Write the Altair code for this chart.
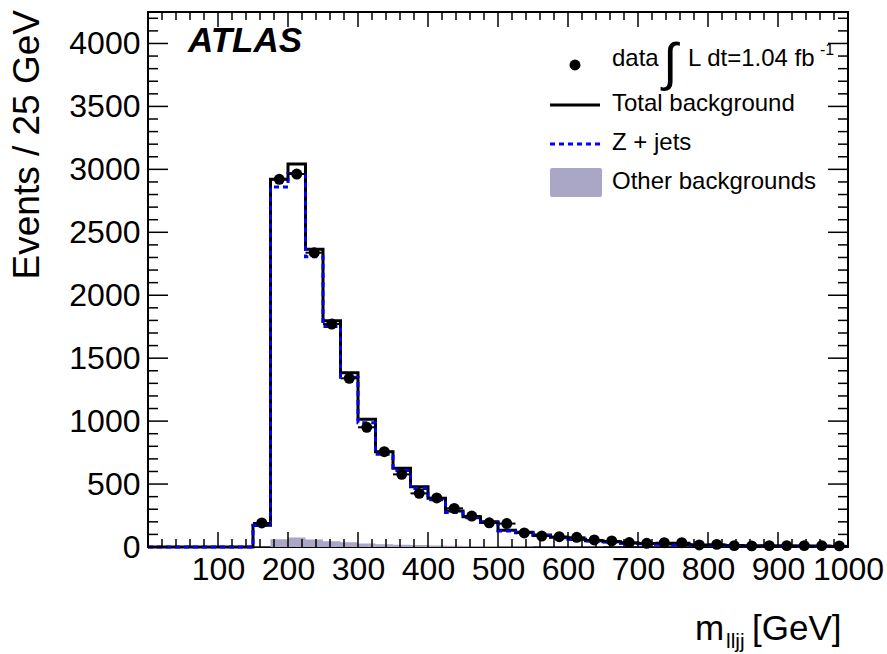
import altair as alt
import pandas as pd

# ---- data (25 GeV bins from 0 to 1000 GeV) ----
bin_edges = list(range(0, 1001, 25))

total_bkg = [0, 0, 0, 0, 0, 0, 173, 2921, 3042, 2365, 1797, 1385, 1014, 757, 625, 479,
             387, 285, 241, 201, 133, 118, 95, 77, 62, 50, 42, 32, 27, 23, 19, 16, 13,
             11, 9, 8, 7, 6, 5, 4]
other_bkg = [0, 0, 0, 0, 0, 0, 3, 61, 75, 59, 46, 37, 27, 21, 18, 15, 12, 10, 8, 7, 6,
             5, 4, 4, 3, 3, 2, 2, 2, 2, 1, 1, 1, 1, 1, 1, 1, 1, 1, 1]
zjets_bkg = [0, 0, 0, 0, 0, 0, 170, 2860, 2967, 2306, 1751, 1348, 987, 736, 607, 464,
             375, 275, 233, 194, 127, 113, 91, 73, 59, 47, 40, 30, 25, 21, 18, 15, 12,
             10, 8, 7, 6, 5, 4, 3]
data_counts = [None] * 6 + [191, 2921, 2963, 2338, 1771, 1340, 951, 757, 577, 426, 390,
                            307, 246, 192, 186, 112, 87, 82, 77, 56, 48, 35, 29, 34, 34,
                            16, 21, 11, 9, 11, 11, 11, 11, 9]

x_tick_labels = [100, 200, 300, 400, 500, 600, 700, 800, 900, 1000]
y_tick_labels = [0, 500, 1000, 1500, 2000, 2500, 3000, 3500, 4000]
x_major = list(range(0, 1001, 100))
x_minor = [v for v in range(0, 1001, 20) if v % 100 != 0]
y_major = list(range(0, 4001, 500))
y_minor = [v for v in range(0, 4201, 100) if v % 500 != 0]

legend_labels = ["data", "Total background", "Z + jets", "Other backgrounds"]

# ---- tables ----
hist = pd.DataFrame({
    "x": bin_edges,
    "total": total_bkg + [total_bkg[-1]],
    "zjets": zjets_bkg + [zjets_bkg[-1]],
    "other": other_bkg + [other_bkg[-1]],
})
pts = pd.DataFrame({
    "lo": bin_edges[:-1],
    "hi": bin_edges[1:],
    "y": data_counts,
})
pts["x"] = (pts["lo"] + pts["hi"]) / 2
pts = pts.dropna()

FONT = "Liberation Sans"
W, H = 700, 535
xs = alt.Scale(domain=[0, 1000], nice=False, zero=False)
ys = alt.Scale(domain=[0, 4250], nice=False, zero=False)
xaxis = alt.Axis(values=x_tick_labels, title=None, ticks=False, domain=False, grid=False,
                 labelFontSize=32, labelFont=FONT, labelColor="black", labelPadding=7,
                 labelFlush=False, labelOverlap=False, format="d")
yaxis = alt.Axis(values=y_tick_labels, title=None, ticks=False, domain=False, grid=False,
                 labelFontSize=32, labelFont=FONT, labelColor="black", labelPadding=8,
                 labelFlush=False, labelOverlap=False, format="d")

def X(f):
    return alt.X(f, type="quantitative", scale=xs, axis=xaxis)

def Y(f):
    return alt.Y(f, type="quantitative", scale=ys, axis=yaxis)

base = alt.Chart(hist)
area_other = base.mark_area(interpolate="step-after", color="#aaa6c6", opacity=1).encode(
    x=X("x"), y=Y("other"))
line_total = base.mark_line(interpolate="step-after", color="black", strokeWidth=3).encode(
    x=X("x"), y=Y("total"))
line_z = base.mark_line(interpolate="step-after", color="#0000ff", strokeWidth=3,
                        strokeDash=[5, 4]).encode(x=X("x"), y=Y("zjets"))

pb = alt.Chart(pts)
err_x = pb.mark_rule(color="black", strokeWidth=2).encode(x=X("lo"), x2="hi", y=Y("y"))
dots = pb.mark_circle(color="black", size=120, opacity=1).encode(x=X("x"), y=Y("y"))

# ---- inward ticks on all four sides ----
def vt(vals, length, side):
    d = alt.Chart(pd.DataFrame({"v": vals}))
    if side == "left":
        return d.mark_rule(color="black", strokeWidth=1.5).encode(
            y=Y("v"), x=alt.value(0), x2=alt.value(length))
    return d.mark_rule(color="black", strokeWidth=1.5).encode(
        y=Y("v"), x=alt.value(W), x2=alt.value(W - length))

def ht(vals, length, side):
    d = alt.Chart(pd.DataFrame({"v": vals}))
    if side == "bottom":
        return d.mark_rule(color="black", strokeWidth=1.5).encode(
            x=X("v"), y=alt.value(H), y2=alt.value(H - length))
    return d.mark_rule(color="black", strokeWidth=1.5).encode(
        x=X("v"), y=alt.value(0), y2=alt.value(length))

ticks = [vt(y_major, 20, "left"), vt(y_minor, 10, "left"),
         vt(y_major, 20, "right"), vt(y_minor, 10, "right"),
         ht(x_major, 15, "bottom"), ht(x_minor, 8, "bottom"),
         ht(x_major, 15, "top"), ht(x_minor, 8, "top")]

one = alt.Data(values=[{}])

def txt(text, x, y, size, **kw):
    return alt.Chart(one).mark_text(text=text, font=FONT, fontSize=size, color="black",
                                    align=kw.pop("align", "left"),
                                    baseline=kw.pop("baseline", "alphabetic"), **kw).encode(
        x=alt.value(x), y=alt.value(y))

atlas = txt("ATLAS", 40, 40, 35, fontWeight="bold", fontStyle="italic")

leg_dot = alt.Chart(one).mark_circle(color="black", size=120, opacity=1).encode(
    x=alt.value(427), y=alt.value(53))
leg_total = alt.Chart(one).mark_rule(color="black", strokeWidth=3).encode(
    x=alt.value(402), x2=alt.value(452), y=alt.value(93))
leg_z = alt.Chart(one).mark_rule(color="#0000ff", strokeWidth=3, strokeDash=[5, 4]).encode(
    x=alt.value(402), x2=alt.value(452), y=alt.value(132))
leg_other = alt.Chart(one).mark_rect(color="#aaa6c6", cornerRadius=2).encode(
    x=alt.value(402), x2=alt.value(454), y=alt.value(156), y2=alt.value(185))

t_data = txt(legend_labels[0], 464, 54, 24)
t_int = txt("\u222b", 522, 52, 52, align="center", baseline="middle")
t_lumi = txt("L dt=1.04 fb", 540, 54, 24)
t_sup = txt("-1", 672, 43, 16)
t_total = txt(legend_labels[1], 464, 99, 24)
t_z = txt(legend_labels[2], 464, 138, 24)
t_other = txt(legend_labels[3], 464, 177, 24)

ytitle = txt("Events / 25 GeV", -120, -2, 37, angle=270, align="right", baseline="middle")
xt_m = txt("m", 547, 628, 35)
xt_sub = txt("lljj", 578, 636, 21)
xt_gev = txt("[GeV]", 604, 628, 35)

chart = alt.layer(
    area_other, line_total, line_z, *ticks, err_x, dots, atlas,
    leg_dot, leg_total, leg_z, leg_other, t_data, t_int, t_lumi, t_sup,
    t_total, t_z, t_other, ytitle, xt_m, xt_sub, xt_gev,
).properties(
    width=W, height=H,
    padding={"left": 148, "top": 12, "right": 39, "bottom": 107},
    autosize=alt.AutoSizeParams(type="none"),
    background="white",
).configure_view(stroke="black", strokeWidth=2)

chart.save("out.html", embed_options={"renderer": "svg", "actions": False})
